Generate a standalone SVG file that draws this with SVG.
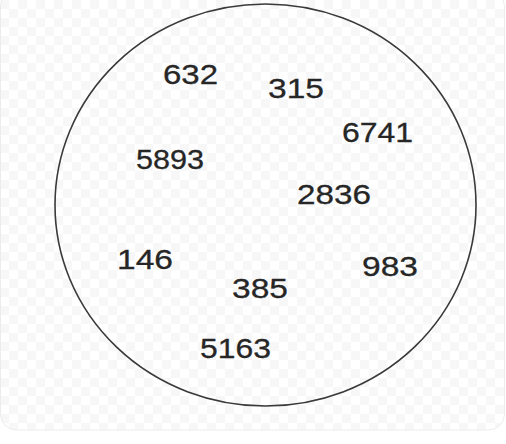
<svg xmlns="http://www.w3.org/2000/svg" width="506" height="444" viewBox="0 0 506 444">
<defs>
<pattern id="chk" width="18" height="18" patternUnits="userSpaceOnUse">
<rect width="18" height="18" fill="#ffffff"/>
<rect width="9" height="9" fill="#f7f7f7"/>
<rect x="9" y="9" width="9" height="9" fill="#f7f7f7"/>
</pattern>
<style>
.n{font-family:"Liberation Sans",Arial,sans-serif;font-size:28px;fill:#262626;stroke:#262626;stroke-width:0.3}
.c{fill:none;stroke:#3a3a3a;stroke-width:1.6}
</style>
</defs>
<rect x="0" y="0" width="506" height="444" fill="#ffffff"/>
<rect x="0.5" y="-10" width="504" height="440" rx="16" fill="url(#chk)" stroke="#ececec"/>
<g id="connectors"/>
<g id="set">
<ellipse class="c" cx="265.5" cy="205" rx="210.5" ry="201"/>
</g>
<g id="n632"><text class="n" x="163" y="84" textLength="55" lengthAdjust="spacingAndGlyphs">632</text></g>
<g id="n315"><text class="n" x="268" y="98" textLength="56" lengthAdjust="spacingAndGlyphs">315</text></g>
<g id="n6741"><text class="n" x="342" y="142" textLength="71" lengthAdjust="spacingAndGlyphs">6741</text></g>
<g id="n5893"><text class="n" x="136" y="169" textLength="68" lengthAdjust="spacingAndGlyphs">5893</text></g>
<g id="n2836"><text class="n" x="297" y="204" textLength="74" lengthAdjust="spacingAndGlyphs">2836</text></g>
<g id="n146"><text class="n" x="117" y="269" textLength="56" lengthAdjust="spacingAndGlyphs">146</text></g>
<g id="n983"><text class="n" x="362" y="276" textLength="56" lengthAdjust="spacingAndGlyphs">983</text></g>
<g id="n385"><text class="n" x="232" y="298" textLength="56" lengthAdjust="spacingAndGlyphs">385</text></g>
<g id="n5163"><text class="n" x="200" y="358" textLength="71" lengthAdjust="spacingAndGlyphs">5163</text></g>
</svg>
